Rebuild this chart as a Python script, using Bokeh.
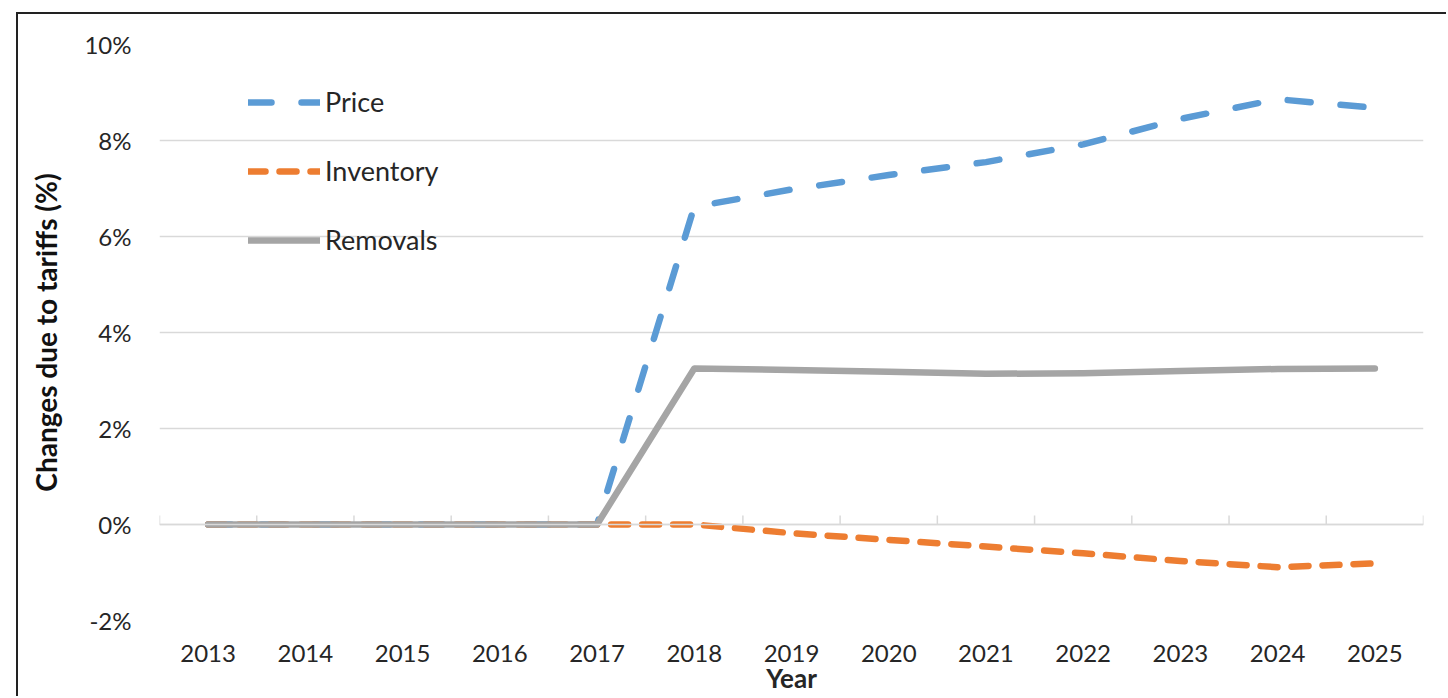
from bokeh.plotting import figure
from bokeh.models import (FixedTicker, PrintfTickFormatter, Span, Legend, LegendItem,
                          ColumnDataSource, Range1d)
from bokeh.embed import file_html
from bokeh.resources import INLINE

years = ["2013", "2014", "2015", "2016", "2017", "2018", "2019",
         "2020", "2021", "2022", "2023", "2024", "2025"]
price = [0, 0, 0, 0, 0, 6.62, 6.98, 7.28, 7.55, 7.92, 8.45, 8.86, 8.68]
inventory = [0, 0, 0, 0, 0, 0, -0.18, -0.32, -0.46, -0.60, -0.76, -0.89, -0.81]
removals = [0, 0, 0, 0, 0, 3.25, 3.22, 3.18, 3.14, 3.15, 3.20, 3.24, 3.25]
y_ticks = [-2, 0, 2, 4, 6, 8, 10]

FONT = "Lato"
GRID = "#d9d9d9"
TEXT = "#262626"

FRAME_H = 576
px_per_unit = FRAME_H / (y_ticks[-1] - y_ticks[0])

xs = list(range(len(years)))
src = ColumnDataSource(dict(x=xs, price=price, inventory=inventory, removals=removals))

p = figure(width=1430, height=684, output_backend="svg", toolbar_location=None,
           x_range=Range1d(-0.5, len(years) - 0.5), y_range=Range1d(y_ticks[0], y_ticks[-1]),
           min_border_left=141, min_border_right=25, min_border_top=30, min_border_bottom=78)
p.styles = {"margin-left": "16px", "margin-top": "12px",
            "border-left": "2px solid #222", "border-top": "2px solid #222"}
p.outline_line_color = None
p.background_fill_color = "white"
p.border_fill_color = "white"

# axes
p.xaxis.ticker = FixedTicker(ticks=xs)
p.xaxis.major_label_overrides = {i: y for i, y in enumerate(years)}
p.xaxis.axis_line_color = None
p.xaxis.major_tick_line_color = None
p.xaxis.minor_tick_line_color = None
p.xaxis.major_label_standoff = 18
p.xaxis.major_label_text_font = FONT
p.xaxis.major_label_text_font_size = "24px"
p.xaxis.major_label_text_color = TEXT
p.xaxis.axis_label = "Year"
p.xaxis.axis_label_text_font = FONT
p.xaxis.axis_label_text_font_style = "bold"
p.xaxis.axis_label_text_font_size = "26px"
p.xaxis.axis_label_text_color = TEXT
p.xaxis.axis_label_standoff = -3

p.yaxis.ticker = FixedTicker(ticks=y_ticks)
p.yaxis.formatter = PrintfTickFormatter(format="%d%%")
p.yaxis.axis_line_color = None
p.yaxis.major_tick_line_color = None
p.yaxis.minor_tick_line_color = None
p.yaxis.major_label_standoff = 22
p.yaxis.major_label_text_font = FONT
p.yaxis.major_label_text_font_size = "24px"
p.yaxis.major_label_text_color = TEXT
p.yaxis.axis_label = "Changes due to tariffs (%)"
p.yaxis.axis_label_text_font = FONT
p.yaxis.axis_label_text_font_style = "bold"
p.yaxis.axis_label_text_font_size = "28px"
p.yaxis.axis_label_text_color = "#111111"
p.yaxis.axis_label_standoff = 18

p.xgrid.grid_line_color = None
p.ygrid.grid_line_color = GRID
p.ygrid.grid_line_width = 1.5

# category axis crossing at zero with boundary tick marks
p.add_layout(Span(location=0, dimension="width", line_color=GRID, line_width=1.5))
bounds = [i - 0.5 for i in range(len(years) + 1)]
tick_len = 9 / px_per_unit
p.segment(x0=bounds, y0=[0] * len(bounds), x1=bounds, y1=[tick_len] * len(bounds),
          line_color=GRID, line_width=1.5)

r_price = p.line("x", "price", source=src, line_color="#5B9BD5", line_width=6.5,
                 line_dash="23 30", line_cap="round", line_join="round")
r_inv = p.line("x", "inventory", source=src, line_color="#ED7D31", line_width=6.5,
               line_dash="17 14", line_cap="round", line_join="round")
r_rem = p.line("x", "removals", source=src, line_color="#A5A5A5", line_width=6.5,
               line_cap="round", line_join="round")

legend = Legend(items=[LegendItem(label="Price", renderers=[r_price]),
                       LegendItem(label="Inventory", renderers=[r_inv]),
                       LegendItem(label="Removals", renderers=[r_rem])],
                location=(89, 364), orientation="vertical",
                glyph_width=72, glyph_height=20, label_height=20, label_standoff=5,
                spacing=36, padding=0, margin=0,
                border_line_color=None, background_fill_alpha=0,
                label_text_font=FONT, label_text_font_size="27px", label_text_color=TEXT)
p.add_layout(legend)

open("out.html", "w").write(file_html(p, INLINE))
